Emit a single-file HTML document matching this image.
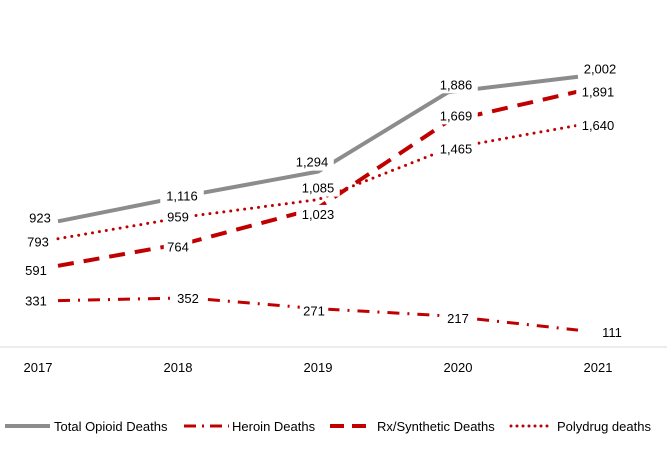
<!DOCTYPE html>
<html><head><meta charset="utf-8"><style>
body{margin:0;background:#fff;font-family:"Liberation Sans",Arial,sans-serif}
svg text{font-family:"Liberation Sans",Arial,sans-serif;font-size:13px;fill:#000}
</style></head><body>
<svg id="chart" width="667" height="471" viewBox="0 0 667 471" xmlns="http://www.w3.org/2000/svg">
<line x1="0" y1="347" x2="667" y2="347" stroke="#d9d9d9" stroke-width="1"/>
<g id="lines"></g><g id="labels"></g><g id="xlabels"></g>
<g font-size="13">
 <line x1="5" y1="426" x2="50" y2="426" stroke="#8c8c8c" stroke-width="4"/>
 <text x="54" y="431">Total Opioid Deaths</text>
 <line x1="184" y1="426" x2="229" y2="426" stroke="#c00000" stroke-width="3" stroke-dasharray="12 6 2 6"/>
 <text x="232" y="431">Heroin Deaths</text>
 <line x1="330" y1="426" x2="373" y2="426" stroke="#c00000" stroke-width="4" stroke-dasharray="14 8"/>
 <text x="377" y="431">Rx/Synthetic Deaths</text>
 <line x1="511" y1="426" x2="553" y2="426" stroke="#c00000" stroke-width="3" stroke-linecap="round" stroke-dasharray="0 6"/>
 <text x="557" y="431">Polydrug deaths</text>
</g>
</svg>
<script>
const years = ["2017","2018","2019","2020","2021"];
const totalDeaths = [923,1116,1294,1886,2002];
const heroinDeaths = [331,352,271,217,111];
const rxDeaths = [591,764,1023,1669,1891];
const polyDeaths = [793,959,1085,1465,1640];
const NS="http://www.w3.org/2000/svg";
const xS=i=>58+130*i;
const xT=i=>38+140*i;
const yS=v=>345-v*0.134;
const series=[
 {name:"total",d:totalDeaths,c:"#8c8c8c",w:4,da:"",cap:"butt",dx:[-18,-6,-6,8,22],dy:[-4,0,-10,-8,-8]},
 {name:"heroin",d:heroinDeaths,c:"#c00000",w:3,da:"12 8 2 8",cap:"butt",dx:[-22,0,-4,10,34],dy:[0,0,2,2,2]},
 {name:"rx",d:rxDeaths,c:"#c00000",w:4,da:"16 10",cap:"butt",dx:[-22,-10,0,8,20],dy:[4,4,6,-6,0]},
 {name:"polydrug",d:polyDeaths,c:"#c00000",w:3,da:"0 7",cap:"round",dx:[-20,-10,0,8,20],dy:[3,0,-12,0,0]}
];
const gL=document.getElementById('lines'),gT=document.getElementById('labels'),gX=document.getElementById('xlabels');
series.forEach(s=>{
 const p=document.createElementNS(NS,'polyline');
 
 
 p.setAttribute('points',s.d.map((v,i)=>xS(i)+','+yS(v)).join(' '));
 p.setAttribute('fill','none');p.setAttribute('stroke',s.c);p.setAttribute('stroke-width',s.w);
 if(s.da)p.setAttribute('stroke-dasharray',s.da);
 p.setAttribute('stroke-linecap',s.cap);
 gL.appendChild(p);
});
series.forEach(s=>{
 s.d.forEach((v,i)=>{
  const t=v.toLocaleString('en-US');
  const x=xS(i)+s.dx[i],y=yS(v)+s.dy[i];
  const w=t.length*7.5+6;
  const r=document.createElementNS(NS,'rect');
  
  
  r.setAttribute('x',x-w/2);r.setAttribute('y',y-9);r.setAttribute('width',w);r.setAttribute('height',18);r.setAttribute('fill','#fff');
  gT.appendChild(r);
  const tx=document.createElementNS(NS,'text');
  
  
  tx.setAttribute('x',x);tx.setAttribute('y',y+5);tx.setAttribute('text-anchor','middle');
  tx.textContent=t;gT.appendChild(tx);
 });
});
years.forEach((yr,i)=>{
 const tx=document.createElementNS(NS,'text');
 
 
 tx.setAttribute('x',xT(i));tx.setAttribute('y',372);tx.setAttribute('text-anchor','middle');
 tx.textContent=yr;gX.appendChild(tx);
});
</script>
</body></html>
